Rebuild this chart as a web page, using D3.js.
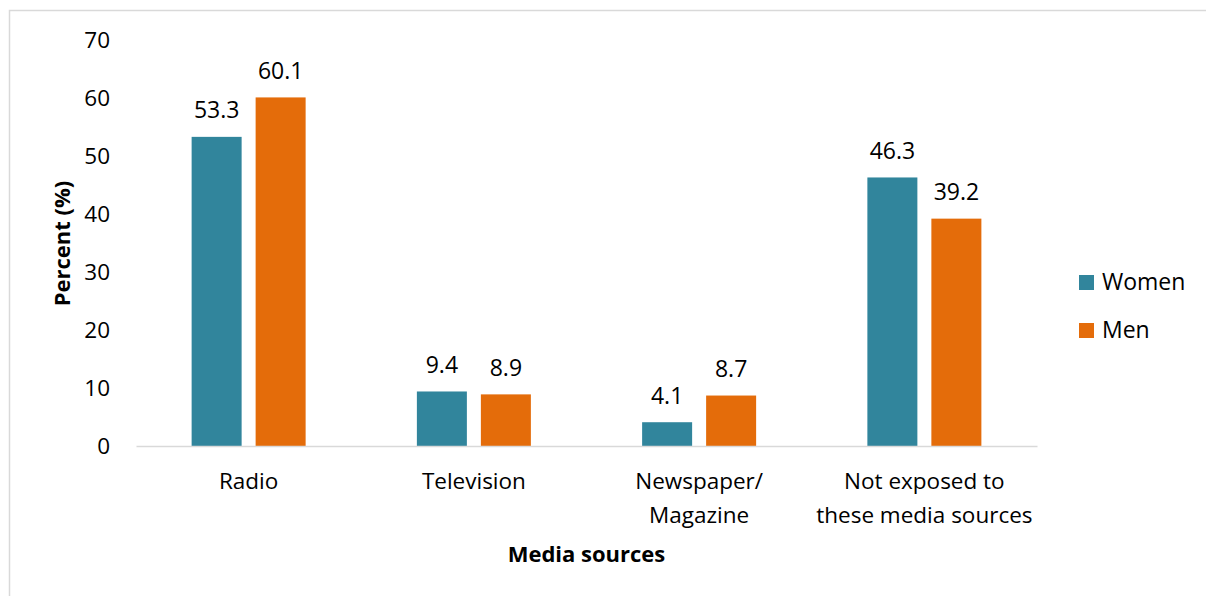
<!DOCTYPE html>
<html>
<head>
<meta charset="utf-8">
<script src="https://cdn.jsdelivr.net/npm/d3@7"></script>
<style>
  html, body { margin: 0; padding: 0; background: #fff; }
  svg { display: block; font-family: "Open Sans", "Noto Sans", sans-serif; }
</style>
</head>
<body>
<svg id="chart" width="1206" height="596"></svg>
<script>
// Exposure to media sources, by sex
const categories = [["Radio"], ["Television"], ["Newspaper/", "Magazine"], ["Not exposed to", "these media sources"]];
const seriesNames = ["Women", "Men"];
const women = [53.3, 9.4, 4.1, 46.3];
const men = [60.1, 8.9, 8.7, 39.2];
const yTicks = [0, 10, 20, 30, 40, 50, 60, 70];
const colors = ["#31859C", "#E46C0A"];

const svg = d3.select("#chart");

// outer chart frame
svg.append("rect")
  .attr("x", 9.5).attr("y", 10.5)
  .attr("width", 1220).attr("height", 620)
  .attr("fill", "none").attr("stroke", "#d9d9d9").attr("stroke-width", 1.5);

const plot = { left: 136, right: 1037, top: 40, bottom: 446 };

const x = d3.scaleBand()
  .domain(d3.range(categories.length))
  .range([plot.left, plot.right]);

const y = d3.scaleLinear()
  .domain([0, 70])
  .range([plot.bottom, plot.top]);

const barW = 50, gap = 14;
const xs = d3.scaleOrdinal()
  .domain([0, 1])
  .range([-(gap / 2) - barW, gap / 2]);

const rows = categories.map((c, i) => ({ i, vals: [women[i], men[i]] }));

// bars
const groups = svg.append("g").selectAll("g")
  .data(rows).join("g")
  .attr("transform", d => `translate(${x(d.i) + x.bandwidth() / 2},0)`);

groups.selectAll("rect")
  .data(d => d.vals.map((v, s) => ({ v, s })))
  .join("rect")
  .attr("x", d => xs(d.s))
  .attr("width", barW)
  .attr("y", d => y(d.v))
  .attr("height", d => y(0) - y(d.v))
  .attr("fill", d => colors[d.s]);

// value labels
groups.selectAll("text.val")
  .data(d => d.vals.map((v, s) => ({ v, s })))
  .join("text")
  .attr("class", "val")
  .attr("x", d => xs(d.s) + barW / 2)
  .attr("y", d => y(d.v) - 18.5)
  .attr("text-anchor", "middle")
  .attr("font-size", 23)
  .attr("fill", "#000")
  .text(d => d.v.toFixed(1));

// y axis (labels only)
const yAxis = svg.append("g")
  .attr("transform", `translate(${plot.left},0)`)
  .call(d3.axisLeft(y).tickValues(yTicks).tickSize(0).tickPadding(26));
yAxis.select(".domain").remove();
yAxis.selectAll("text")
  .attr("font-family", "Open Sans, Noto Sans, sans-serif")
  .attr("font-size", 22.5)
  .attr("fill", "#000");

// x axis baseline
const xAxis = svg.append("g")
  .attr("transform", `translate(0,${plot.bottom})`)
  .call(d3.axisBottom(x).tickSize(0).tickFormat(""));
xAxis.select(".domain").attr("stroke", "#d9d9d9").attr("stroke-width", 1.5);

// category labels
const catLabels = svg.append("g").selectAll("text")
  .data(categories.map((c, i) => ({ c, i })))
  .join("text")
  .attr("x", d => x(d.i) + x.bandwidth() / 2)
  .attr("y", 489)
  .attr("text-anchor", "middle")
  .attr("font-size", 22.5)
  .attr("fill", "#000");
catLabels.selectAll("tspan")
  .data(d => d.c)
  .join("tspan")
  .attr("x", function () { return d3.select(this.parentNode).attr("x"); })
  .attr("dy", (d, k) => k === 0 ? 0 : 33.5)
  .text(d => d);

// axis titles
svg.append("text")
  .attr("x", 586.5).attr("y", 562)
  .attr("text-anchor", "middle")
  .attr("font-size", 22).attr("font-weight", "bold")
  .text("Media sources");

svg.append("text")
  .attr("transform", "translate(70,243.5) rotate(-90)")
  .attr("text-anchor", "middle")
  .attr("font-size", 22).attr("font-weight", "bold")
  .text("Percent (%)");

// legend
const legend = svg.append("g").selectAll("g")
  .data(seriesNames)
  .join("g")
  .attr("transform", (d, i) => `translate(1079,${275 + i * 48})`);
legend.append("rect")
  .attr("width", 15).attr("height", 15)
  .attr("fill", (d, i) => colors[i]);
legend.append("text")
  .attr("x", 23).attr("y", 15)
  .attr("font-size", 23)
  .text(d => d);
</script>
</body>
</html>
